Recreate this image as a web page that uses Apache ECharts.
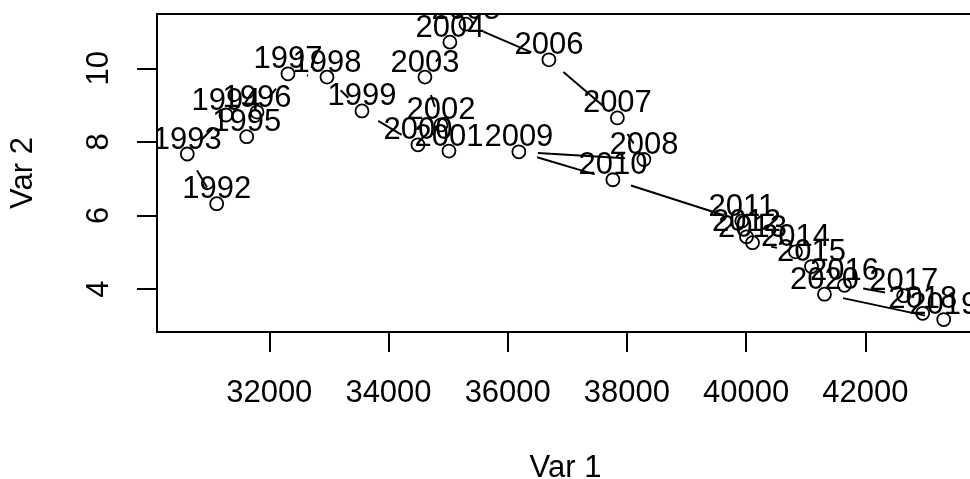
<!DOCTYPE html>
<html>
<head>
<meta charset="utf-8">
<script src="https://cdn.jsdelivr.net/npm/echarts@6/dist/echarts.min.js"></script>
<style>
  html, body { margin: 0; padding: 0; background: #fff; }
  #chart { width: 970px; height: 479px; }
</style>
</head>
<body>
<div id="chart"></div>
<script>
var years = [1992, 1993, 1994, 1995, 1996, 1997, 1998, 1999, 2000, 2001, 2002, 2003, 2004, 2005,
    2006, 2007, 2008, 2009, 2010, 2011, 2012, 2013, 2014, 2015, 2016, 2017, 2018, 2019, 2020];
var var1 = [31118, 30625, 31274, 31621, 31794, 32314, 32968, 33555, 34494, 35014, 34879, 34611, 35030, 35299,
    36691, 37839, 38284, 36187, 37764, 39927, 40005, 40106, 40827, 41095, 41648, 42642, 42961, 43313, 41313];
var var2 = [6.32, 7.67, 8.73, 8.14, 8.81, 9.85, 9.76, 8.84, 7.92, 7.75, 8.46, 9.76, 10.71, 11.20,
    10.23, 8.65, 7.52, 7.73, 6.97, 5.85, 5.42, 5.26, 5.01, 4.61, 4.10, 3.82, 3.34, 3.17, 3.86];
var xTicks = [32000, 34000, 36000, 38000, 40000, 42000];
var yTicks = [4, 6, 8, 10];

var font = "'Liberation Sans', Arial, sans-serif";

// points + segments between consecutive years
var points = [];
var segments = [];
for (var i = 0; i < years.length; i++) {
    points.push([var1[i], var2[i], years[i]]);
    if (i > 0) {
        segments.push([var1[i - 1], var2[i - 1], var1[i], var2[i]]);
    }
}

var myChart = echarts.init(document.getElementById('chart'));
var option = {
    backgroundColor: '#fff',
    animation: false,
    grid: {
        left: 157,
        top: 14,
        width: 817,
        height: 318,
        containLabel: false,
        outerBoundsMode: 'none',
        show: true,
        borderColor: '#000',
        borderWidth: 2,
        backgroundColor: 'transparent'
    },
    xAxis: {
        type: 'value',
        min: 30117,
        max: 43821,
        name: 'Var 1',
        nameLocation: 'middle',
        nameGap: 121,
        nameTextStyle: { color: '#000', fontSize: 31, fontFamily: font },
        axisLine: { show: false },
        splitLine: { show: false },
        axisTick: {
            show: true,
            length: 20,
            customValues: xTicks,
            lineStyle: { color: '#000', width: 2 }
        },
        axisLabel: {
            customValues: xTicks,
            margin: 46,
            color: '#000',
            fontSize: 31,
            fontFamily: font,
            formatter: function (v) { return String(v); }
        }
    },
    yAxis: {
        type: 'value',
        min: 2.832,
        max: 11.475,
        name: 'Var 2',
        nameLocation: 'middle',
        nameGap: 118,
        nameTextStyle: { color: '#000', fontSize: 31, fontFamily: font },
        axisLine: { show: false },
        splitLine: { show: false },
        axisTick: {
            show: true,
            length: 20,
            customValues: yTicks,
            lineStyle: { color: '#000', width: 2 }
        },
        axisLabel: {
            customValues: yTicks,
            rotate: 90,
            margin: 42,
            color: '#000',
            fontSize: 31,
            fontFamily: font
        }
    },
    series: [
        {
            // connecting lines, with a gap round each point
            type: 'custom',
            data: segments,
            encode: { x: [0, 2], y: [1, 3] },
            renderItem: function (params, api) {
                var p1 = api.coord([api.value(0), api.value(1)]);
                var p2 = api.coord([api.value(2), api.value(3)]);
                var dx = p2[0] - p1[0], dy = p2[1] - p1[1];
                var len = Math.sqrt(dx * dx + dy * dy);
                var gap = 19;
                if (len <= gap * 2) return null;
                var ux = dx / len, uy = dy / len;
                return {
                    type: 'line',
                    shape: {
                        x1: p1[0] + ux * gap, y1: p1[1] + uy * gap,
                        x2: p2[0] - ux * gap, y2: p2[1] - uy * gap
                    },
                    style: { stroke: '#000', lineWidth: 2 }
                };
            }
        },
        {
            type: 'scatter',
            data: points,
            symbol: 'circle',
            symbolSize: 13,
            itemStyle: {
                color: 'rgba(0,0,0,0)',
                borderColor: '#000',
                borderWidth: 1.8,
                opacity: 1
            },
            emphasis: { disabled: true }
        },
        {
            // year labels, clipped to the plot box
            type: 'custom',
            data: points,
            clip: true,
            encode: { x: 0, y: 1 },
            renderItem: function (params, api) {
                var p = api.coord([api.value(0), api.value(1)]);
                return {
                    type: 'text',
                    x: p[0],
                    y: p[1] - 14,
                    style: {
                        text: String(api.value(2)),
                        fill: '#000',
                        fontSize: 31,
                        fontFamily: font,
                        align: 'center',
                        verticalAlign: 'middle'
                    }
                };
            }
        }
    ]
};
myChart.setOption(option);
</script>
</body>
</html>
